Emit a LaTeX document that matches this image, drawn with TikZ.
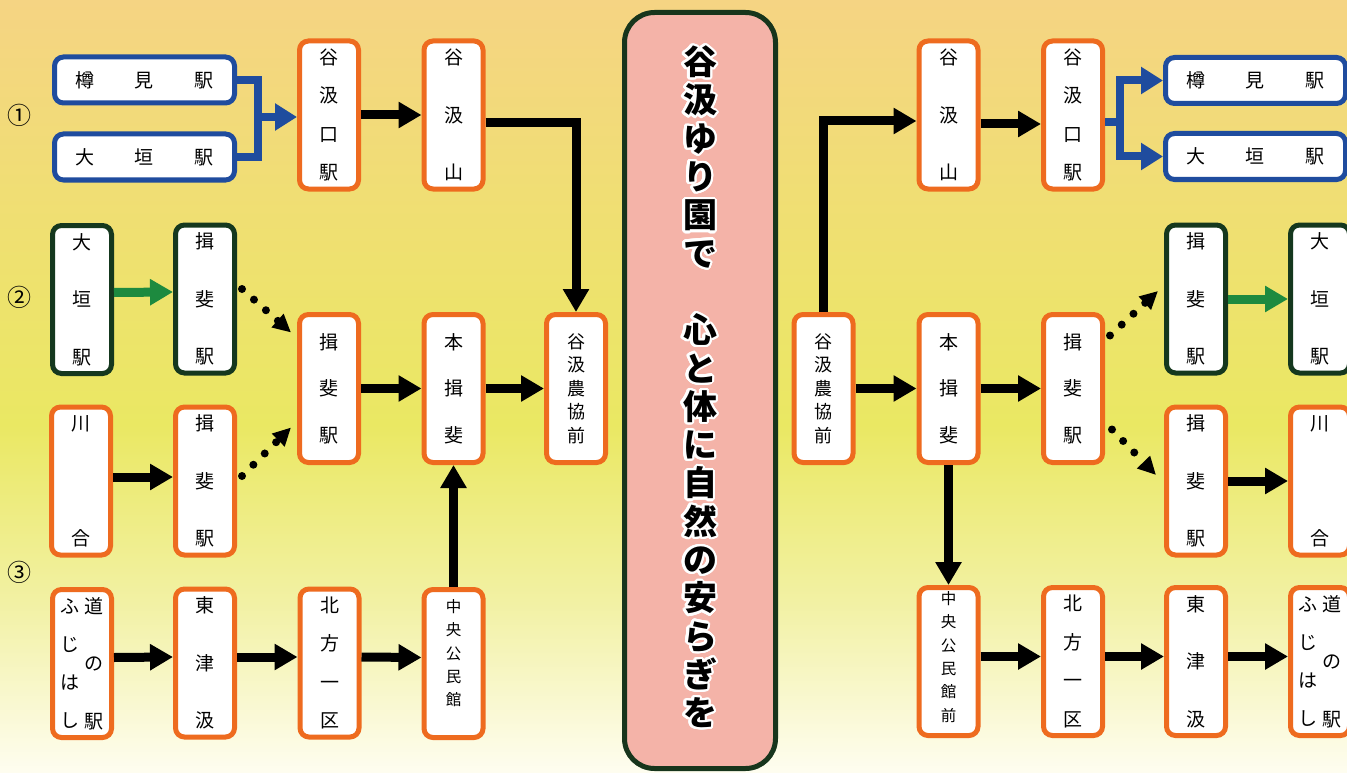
\documentclass[tikz,border=0pt]{standalone}
\usepackage{fontspec}
\usepackage{contour}
\usetikzlibrary{arrows.meta}
\newfontfamily\cjk{Noto Sans CJK JP}
\contourlength{2.2pt}
\contournumber{32}

\definecolor{stnorange}{HTML}{EE6B1F}
\definecolor{stnblue}{HTML}{1F4C9E}
\definecolor{stngreen}{HTML}{15381E}
\definecolor{arrgreen}{HTML}{1D8A3F}
\definecolor{bannerfill}{HTML}{F4B3A8}
\definecolor{bannerline}{HTML}{17351C}
\definecolor{bgtop}{HTML}{F5D483}
\definecolor{bgupper}{HTML}{F0DE74}
\definecolor{bgmid}{HTML}{EAE863}
\definecolor{bglower}{HTML}{F2F1A4}
\definecolor{bgbot}{HTML}{FEFDF0}
% only 25bp..75bp of the shading is visible on the path
\pgfdeclareverticalshading{bgshade}{100bp}{color(0bp)=(bgbot); color(25bp)=(bgbot);
  color(36bp)=(bglower); color(47.5bp)=(bgmid); color(62.5bp)=(bgupper);
  color(75bp)=(bgtop); color(100bp)=(bgtop)}

% vertical text in a station box
\newcommand{\tate}[3][s]{\parbox[c][#2][#1]{1.2em}{\centering #3}}
\newcommand{\tgap}{\par\vfill}
\newcommand{\yoko}[1]{\makebox[139pt][s]{#1}}
\newcommand{\fc}[1]{\contour{white}{#1}}

\begin{document}
\begin{tikzpicture}[x=1pt,y=-1pt,
  stn/.style={draw=stnorange, line width=5pt, fill=white, rounded corners=9pt,
    minimum width=59pt, minimum height=148pt, inner sep=0pt,
    font=\cjk\fontsize{19}{23}\selectfont},
  bluestn/.style={stn, draw=stnblue, minimum width=180pt, minimum height=46pt},
  greenstn/.style={stn, draw=stngreen},
  arr/.style={line width=9pt, -{Triangle[length=23pt,width=25pt]}},
  garr/.style={arr, draw=arrgreen},
  bluelink/.style={line width=8pt, draw=stnblue},
  bluearr/.style={bluelink, -{Triangle[length=22pt,width=26pt]}},
  dotarr/.style={line width=8pt, line cap=round, dash pattern=on 0pt off 16pt,
    -{Triangle[length=18pt,width=17pt]}},
  banner/.style={draw=bannerline, line width=5pt, fill=bannerfill, rounded corners=30pt,
    minimum width=151pt, minimum height=756pt, inner sep=0pt},
  slogan/.style={font=\cjk\bfseries\fontsize{34}{38.3}\selectfont, align=center, inner sep=0pt},
  numlbl/.style={font=\cjk\fontsize{24}{24}\selectfont, inner sep=0pt}]
\useasboundingbox (0,0) rectangle (1347,773);
\shade[shading=bgshade] (0,0) rectangle (1347,773);

% centre banner
\node[banner] (banner) at (700,390.5) {};
\node[slogan] (slogantxt) at (700,388) {\fc{谷}\\\fc{汲}\\\fc{ゆ}\\\fc{り}\\\fc{園}\\\fc{で}\\\mbox{}\\\fc{心}\\\fc{と}\\\fc{体}\\\fc{に}\\\fc{自}\\\fc{然}\\\fc{の}\\\fc{安}\\\fc{ら}\\\fc{ぎ}\\\fc{を}};

% route numbers
\node[numlbl] (n1) at (20,115) {①};
\node[numlbl] (n2) at (20,297) {②};
\node[numlbl] (n3) at (20,572) {③};

% left half
\node[bluestn] (tarumiL) at (144.5,80) {\yoko{樽\hfill 見\hfill 駅}};
\node[bluestn] (ogakiL) at (144.5,157) {\yoko{大\hfill 垣\hfill 駅}};
\node[stn] (guchiL) at (329,115) {\tate{131pt}{谷\tgap 汲\tgap 口\tgap 駅}};
\node[stn] (yamaL) at (453.5,115) {\tate{131pt}{谷\tgap 汲\tgap 山}};
\node[greenstn] (ogakiGL) at (82,299.5) {\tate{131pt}{大\tgap 垣\tgap 駅}};
\node[greenstn] (ibiGL) at (205,299) {\tate{131pt}{揖\tgap 斐\tgap 駅}};
\node[stn] (kawaiL) at (81,481) {\tate{130pt}{川\tgap 合}};
\node[stn] (ibiOL) at (205,481) {\tate{131pt}{揖\tgap 斐\tgap 駅}};
\node[stn] (ibiL) at (329,388.5) {\tate{109pt}{揖\tgap 斐\tgap 駅}};
\node[stn] (honL) at (453.5,388.5) {\tate{109pt}{本\tgap 揖\tgap 斐}};
\node[stn, font=\cjk\fontsize{18}{23.5}\selectfont, align=center] (noukyoL) at (576,388.5) {谷\\汲\\農\\協\\前};
\node[stn] (fujiL) at (82,663.5) {\tate{128pt}{ふ\tgap じ\tgap は\tgap し}\hspace{1pt}\tate{131pt}{道\tgap の\tgap 駅}};
\node[stn] (higashiL) at (205,663) {\tate{131pt}{東\tgap 津\tgap 汲}};
\node[stn] (kitaL) at (329.5,663) {\tate{131pt}{北\tgap 方\tgap 一\tgap 区}};
\node[stn, font=\cjk\fontsize{15.5}{23.3}\selectfont] (chuoL) at (453.5,663.5) {\tate[t]{128pt}{中\par 央\par 公\par 民\par 館}};

\coordinate (forkL) at (258,117);
\draw[bluelink] (tarumiL.east) -| (forkL) |- (ogakiL.east);
\draw[bluearr] (forkL) -- (forkL -| guchiL.west);
\draw[arr] (guchiL.east) -- (yamaL.west);
\draw[arr] ([yshift=-8pt]yamaL.east) -| (noukyoL.north);
\draw[garr] ([yshift=7pt]ogakiGL.east) -- ([yshift=7pt]ibiGL.west);
\draw[arr] ([yshift=4pt]kawaiL.east) -- ([yshift=4pt]ibiOL.west);
\draw[dotarr] ([shift={(5pt,10pt)}]ibiGL.east) -- ([shift={(-6pt,56pt)}]ibiL.west);
\draw[dotarr] ([shift={(5pt,5pt)}]ibiOL.east) -- ([shift={(-6pt,-39pt)}]ibiL.west);
\draw[arr] (ibiL.east) -- (honL.west);
\draw[arr] (honL.east) -- (noukyoL.west);
\draw[arr] (chuoL.north) -- (honL.south);
\draw[arr] ([yshift=6pt]fujiL.east) -- ([yshift=6pt]higashiL.west);
\draw[arr] ([yshift=6pt]higashiL.east) -- ([yshift=6pt]kitaL.west);
\draw[arr] ([yshift=6pt]kitaL.east) -- ([yshift=6pt]chuoL.west);

% right half
\node[stn] (yamaR) at (948.5,115) {\tate{131pt}{谷\tgap 汲\tgap 山}};
\node[stn] (guchiR) at (1073,115) {\tate{131pt}{谷\tgap 汲\tgap 口\tgap 駅}};
\node[bluestn] (tarumiR) at (1255.5,80.5) {\yoko{樽\hfill 見\hfill 駅}};
\node[bluestn] (ogakiR) at (1255.5,156.5) {\yoko{大\hfill 垣\hfill 駅}};
\node[stn, font=\cjk\fontsize{18}{23.5}\selectfont, align=center] (noukyoR) at (823.5,388.5) {谷\\汲\\農\\協\\前};
\node[stn] (honR) at (948.5,388.5) {\tate{109pt}{本\tgap 揖\tgap 斐}};
\node[stn] (ibiR) at (1073,388.5) {\tate{109pt}{揖\tgap 斐\tgap 駅}};
\node[greenstn] (ibiGR) at (1196,299) {\tate{131pt}{揖\tgap 斐\tgap 駅}};
\node[greenstn] (ogakiGR) at (1320,299) {\tate{131pt}{大\tgap 垣\tgap 駅}};
\node[stn] (ibiOR) at (1196,481) {\tate{131pt}{揖\tgap 斐\tgap 駅}};
\node[stn] (kawaiR) at (1320,481) {\tate{130pt}{川\tgap 合}};
\node[stn, font=\cjk\fontsize{15.5}{23.3}\selectfont] (chuoR) at (948.5,661.5) {\tate[t]{140pt}{中\par 央\par 公\par 民\par 館\par 前}};
\node[stn] (kitaR) at (1073,661.5) {\tate{131pt}{北\tgap 方\tgap 一\tgap 区}};
\node[stn] (higashiR) at (1196,661.5) {\tate{131pt}{東\tgap 津\tgap 汲}};
\node[stn] (fujiR) at (1320,661.5) {\tate{128pt}{ふ\tgap じ\tgap は\tgap し}\hspace{1pt}\tate{131pt}{道\tgap の\tgap 駅}};

\coordinate (forkR) at (1120,122);
\draw[arr] (noukyoR.north) |- ([yshift=-6pt]yamaR.west);
\draw[arr] ([yshift=-9pt]yamaR.east) -- ([yshift=-9pt]guchiR.west);
\draw[bluelink] ([yshift=-7pt]guchiR.east) -- (forkR);
\draw[bluearr] (forkR) |- (tarumiR.west);
\draw[bluearr] (forkR) |- (ogakiR.west);
\draw[arr] (noukyoR.east) -- (honR.west);
\draw[arr] (honR.east) -- (ibiR.west);
\draw[arr] (honR.south) -- (chuoR.north);
\draw[dotarr] ([shift={(5pt,53pt)}]ibiR.east) -- ([shift={(-6pt,8pt)}]ibiGR.west);
\draw[dotarr] ([shift={(7pt,-41pt)}]ibiR.east) -- ([shift={(-8pt,6pt)}]ibiOR.west);
\draw[garr] (ibiGR.east) -- (ogakiGR.west);
\draw[arr] (ibiOR.east) -- (kawaiR.west);
\draw[arr] ([yshift=5pt]chuoR.east) -- ([yshift=5pt]kitaR.west);
\draw[arr] ([yshift=5pt]kitaR.east) -- ([yshift=5pt]higashiR.west);
\draw[arr] ([yshift=5pt]higashiR.east) -- ([yshift=5pt]fujiR.west);
\end{tikzpicture}
\end{document}
